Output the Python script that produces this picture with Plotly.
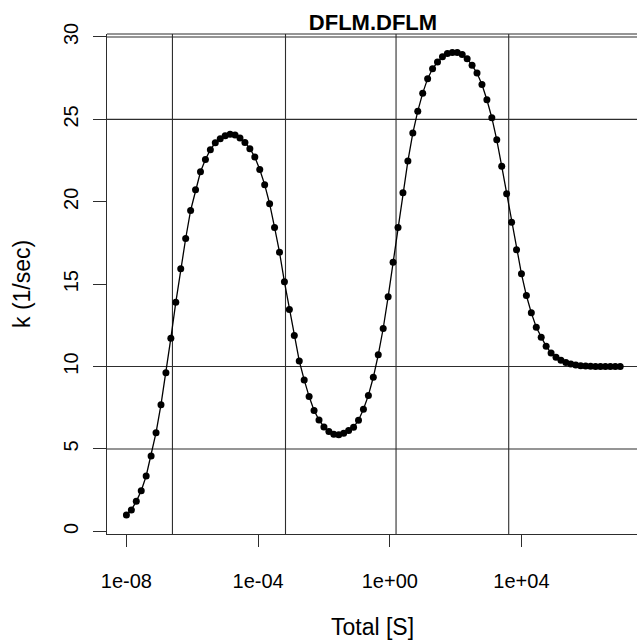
import numpy as np
import plotly.graph_objects as go

# Total [S]: 101 log-spaced concentrations from 1e-08 to 1e+07
total_s = np.logspace(-8, 7, 101)

# k (1/sec)
k_values = [
    1.00, 1.30, 1.82, 2.47, 3.36, 4.58, 5.99, 7.69, 9.62, 11.72,
    13.90, 15.93, 17.77, 19.47, 20.73, 21.82, 22.57, 23.16, 23.58, 23.83,
    24.00, 24.09, 24.05, 23.87, 23.60, 23.22, 22.72, 21.96, 21.04, 19.88,
    18.44, 16.94, 15.14, 13.46, 11.88, 10.34, 9.19, 8.18, 7.34, 6.76,
    6.34, 6.06, 5.90, 5.86, 5.95, 6.12, 6.32, 6.74, 7.41, 8.25,
    9.35, 10.71, 12.31, 14.23, 16.33, 18.44, 20.55, 22.47, 24.17, 25.50,
    26.59, 27.47, 28.07, 28.48, 28.80, 28.99, 29.05, 29.05, 28.93, 28.68,
    28.28, 27.81, 27.12, 26.19, 25.10, 23.76, 22.16, 20.49, 18.76, 17.09,
    15.63, 14.31, 13.26, 12.39, 11.78, 11.23, 10.83, 10.56, 10.38, 10.25,
    10.15, 10.09, 10.05, 10.03, 10.02, 10.01, 10.00, 10.00, 10.00, 10.00,
    10.00,
]

# reference lines
vline_x = [2.5e-7, 6.8e-4, 1.55, 4.1e3]
hline_y = [5, 10, 25, 30]

# axis ticks
x_tickvals = [1e-8, 1e-4, 1e0, 1e4]
x_ticktext = ["1e-08", "1e-04", "1e+00", "1e+04"]
y_tickvals = [0, 5, 10, 15, 20, 25, 30]

title_text = "DFLM.DFLM"
x_title = "Total [S]"
y_title = "k (1/sec)"

FONT = "Liberation Sans, Arial, Helvetica, sans-serif"
GRID = "rgb(45,45,45)"

fig = go.Figure()

for v in vline_x:
    fig.add_trace(go.Scatter(x=[v, v], y=[-5, 40], mode="lines",
                             line=dict(color=GRID, width=1.1),
                             hoverinfo="skip", showlegend=False))
for h in hline_y:
    fig.add_trace(go.Scatter(x=[1e-12, 1e12], y=[h, h], mode="lines",
                             line=dict(color=GRID, width=1.1),
                             hoverinfo="skip", showlegend=False))

fig.add_trace(go.Scatter(
    x=total_s, y=k_values, mode="lines+markers",
    line=dict(color="black", width=1.3),
    marker=dict(color="black", size=7),
    showlegend=False,
))

fig.update_layout(
    width=637, height=641,
    margin=dict(l=107, r=0, t=34, b=107),
    paper_bgcolor="white", plot_bgcolor="white",
    font=dict(family=FONT, color="black"),
    title=dict(text="<b>" + title_text + "</b>", x=373 / 637, xanchor="center",
               y=1 - 22 / 641, yanchor="middle", xref="container", yref="container",
               font=dict(size=22, family=FONT, color="black")),
    xaxis=dict(type="log", range=[-8.59, 7.51], showgrid=False, zeroline=False,
               tickvals=x_tickvals, ticktext=x_ticktext,
               ticks="outside", ticklen=12, tickcolor=GRID, tickwidth=1.1,
               showline=True, linecolor=GRID, linewidth=1.1,
               tickfont=dict(size=20, family=FONT, color="black"),
               ticklabelstandoff=17),
    yaxis=dict(range=[-0.16, 30.18], showgrid=False, zeroline=False,
               tickvals=y_tickvals, tickangle=-90,
               ticks="outside", ticklen=13, tickcolor=GRID, tickwidth=1.1,
               showline=True, linecolor=GRID, linewidth=1.1,
               tickfont=dict(size=20, family=FONT, color="black"),
               ticklabelstandoff=7),
    shapes=[dict(type="line", xref="paper", yref="paper", x0=0, x1=1, y0=1, y1=1,
                 line=dict(color=GRID, width=1.1))],
    annotations=[
        dict(text=x_title, xref="paper", yref="paper", x=0.5, y=(534 - 627) / 500,
             xanchor="center", yanchor="middle", showarrow=False,
             font=dict(size=23, family=FONT, color="black")),
        dict(text=y_title, xref="paper", yref="paper", x=(22 - 107) / 530, y=0.5,
             xanchor="center", yanchor="middle", textangle=-90, showarrow=False,
             font=dict(size=23, family=FONT, color="black")),
    ],
)

fig.write_html("out.html", config={"displayModeBar": False},
               post_script="document.body.style.margin='0';document.body.style.overflow='hidden';")
